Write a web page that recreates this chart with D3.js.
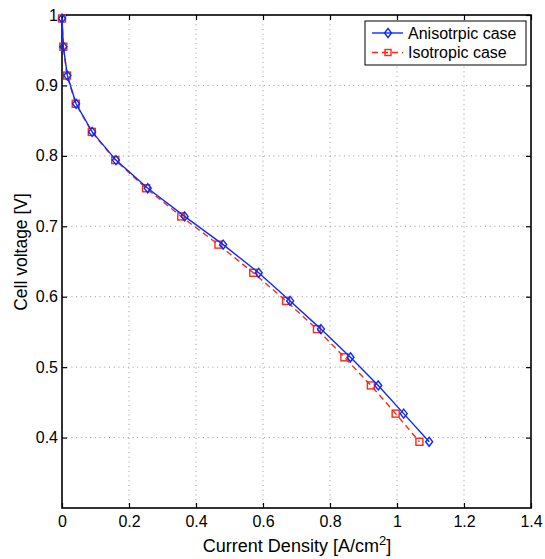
<!DOCTYPE html>
<html><head><meta charset="utf-8">
<script src="https://cdn.jsdelivr.net/npm/d3@7"></script>
<style>body{margin:0;background:#fff}svg{display:block}text{font-family:"Liberation Sans",Arial,sans-serif;fill:#000}</style>
</head><body><svg id="c" width="545" height="559"></svg>
<script>
const voltage = [0.995, 0.955, 0.914, 0.874, 0.834, 0.794, 0.754, 0.714, 0.674, 0.634, 0.594, 0.554, 0.514, 0.474, 0.434, 0.394];
const anisoCurrent = [0, 0.004, 0.016, 0.042, 0.09, 0.161, 0.256, 0.366, 0.481, 0.587, 0.681, 0.773, 0.861, 0.944, 1.02, 1.096];
const isoCurrent = [0, 0.004, 0.015, 0.041, 0.089, 0.159, 0.251, 0.356, 0.467, 0.571, 0.669, 0.761, 0.843, 0.922, 0.996, 1.067];
const xTicks = [0, 0.2, 0.4, 0.6, 0.8, 1, 1.2, 1.4];
const yTicks = [0.4, 0.5, 0.6, 0.7, 0.8, 0.9, 1];
const seriesNames = ["Anisotrpic case", "Isotropic case"];

const L = 62, R = 531, T = 15, B = 508;
const svg = d3.select("#c");
const x = d3.scaleLinear().domain([0, 1.4]).range([L, R]);
const y = d3.scaleLinear().domain([0.3, 1]).range([B, T]);

// grid
const g = svg.append("g");
g.selectAll(".gx").data(xTicks.slice(1, -1)).enter().append("line")
  .attr("x1", d => x(d)).attr("x2", d => x(d)).attr("y1", T).attr("y2", B)
  .attr("stroke", "#999").attr("stroke-width", 1).attr("stroke-dasharray", "1,3.7");
g.selectAll(".gy").data(yTicks.filter(d => d < 1)).enter().append("line")
  .attr("x1", L).attr("x2", R).attr("y1", d => y(d)).attr("y2", d => y(d))
  .attr("stroke", "#999").attr("stroke-width", 1).attr("stroke-dasharray", "1,3.7");

// axes
const fs = 16;
const ax = svg.append("g").attr("transform", `translate(0,${B})`)
  .call(d3.axisBottom(x).tickValues(xTicks).tickFormat(d3.format("~g")).tickSizeInner(-5).tickSizeOuter(0).tickPadding(8));
const axT = svg.append("g").attr("transform", `translate(0,${T})`)
  .call(d3.axisTop(x).tickValues(xTicks).tickFormat("").tickSizeInner(-5).tickSizeOuter(0));
const ay = svg.append("g").attr("transform", `translate(${L},0)`)
  .call(d3.axisLeft(y).tickValues(yTicks).tickFormat(d3.format("~g")).tickSizeInner(-5).tickSizeOuter(0).tickPadding(4));
const ayR = svg.append("g").attr("transform", `translate(${R},0)`)
  .call(d3.axisRight(y).tickValues(yTicks).tickFormat("").tickSizeInner(-5).tickSizeOuter(0));
[ax, axT, ay, ayR].forEach(a => {
  a.select(".domain").remove();
  a.selectAll(".tick line").attr("stroke", "#000").attr("stroke-width", 1.2);
  a.selectAll("text").attr("font-size", fs).attr("font-family", "Liberation Sans, Arial, sans-serif");
});
svg.append("rect").attr("x", L).attr("y", T).attr("width", R - L).attr("height", B - T)
  .attr("fill", "none").attr("stroke", "#000").attr("stroke-width", 1.6);

// axis titles
const xt = svg.append("text").attr("x", 297).attr("y", 552).attr("text-anchor", "middle").attr("font-size", 18);
xt.append("tspan").text("Current Density [A/cm");
xt.append("tspan").attr("font-size", 13).attr("dy", -7).text("2");
xt.append("tspan").attr("dy", 7).text("]");
svg.append("text").attr("transform", `translate(27,252) rotate(-90)`).attr("text-anchor", "middle")
  .attr("font-size", 17.5).text("Cell voltage [V]");

// lines
const aniso = voltage.map((v, i) => [anisoCurrent[i], v]);
const iso = voltage.map((v, i) => [isoCurrent[i], v]);
const line = d3.line().x(d => x(d[0])).y(d => y(d[1]));
const blue = "#0a2bff", red = "#ff2a12";
svg.append("path").datum(iso).attr("d", line).attr("fill", "none").attr("stroke", red).attr("stroke-width", 1.4).attr("stroke-dasharray", "6,4");
svg.selectAll(".sq").data(iso).enter().append("rect")
  .attr("x", d => x(d[0]) - 3.5).attr("y", d => y(d[1]) - 3.5).attr("width", 7).attr("height", 7)
  .attr("fill", "none").attr("stroke", red).attr("stroke-width", 1.4);
svg.append("path").datum(aniso).attr("d", line).attr("fill", "none").attr("stroke", blue).attr("stroke-width", 1.4);
const diamond = (cx, cy) => `M${cx},${cy - 4.5}L${cx + 3.5},${cy}L${cx},${cy + 4.5}L${cx - 3.5},${cy}Z`;
svg.selectAll(".dm").data(aniso).enter().append("path")
  .attr("d", d => diamond(x(d[0]), y(d[1])))
  .attr("fill", "none").attr("stroke", blue).attr("stroke-width", 1.4);

// legend
const lg = svg.append("g");
lg.append("rect").attr("x", 365).attr("y", 21).attr("width", 161).attr("height", 44)
  .attr("fill", "#fff").attr("stroke", "#000").attr("stroke-width", 1);
lg.append("line").attr("x1", 372).attr("x2", 403).attr("y1", 33).attr("y2", 33).attr("stroke", blue).attr("stroke-width", 1.4);
lg.append("path").attr("d", diamond(388, 33)).attr("fill", "none").attr("stroke", blue).attr("stroke-width", 1.4);
lg.append("line").attr("x1", 372).attr("x2", 403).attr("y1", 52.5).attr("y2", 52.5).attr("stroke", red).attr("stroke-width", 1.4).attr("stroke-dasharray", "6,4");
lg.append("rect").attr("x", 385).attr("y", 49.5).attr("width", 6).attr("height", 6).attr("fill", "none").attr("stroke", red).attr("stroke-width", 1.4);
lg.selectAll(".lt").data(seriesNames).enter().append("text")
  .attr("x", 408).attr("y", (d, i) => 38.5 + i * 19.5).attr("font-size", 16).text(d => d);
</script></body></html>
